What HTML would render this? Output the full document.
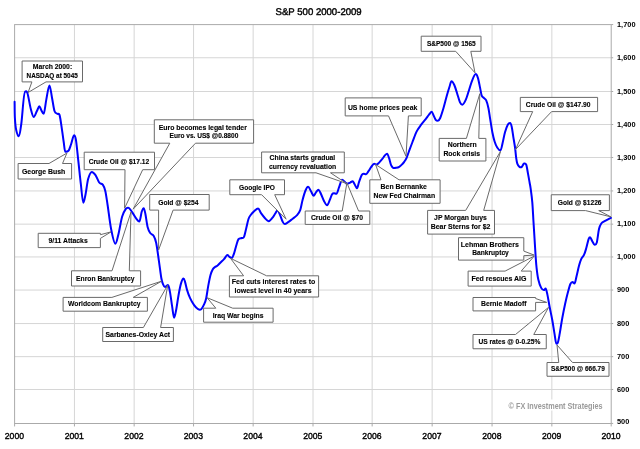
<!DOCTYPE html><html><head><meta charset="utf-8"><title>S&amp;P 500 2000-2009</title>
<style>html,body{margin:0;padding:0;background:#fff;}svg{display:block;}text{font-family:"Liberation Sans",sans-serif;}svg{will-change:transform;}</style></head><body>
<svg width="640" height="449" viewBox="0 0 640 449">
<rect width="640" height="449" fill="#fff"/>
<path d="M74.45,24.55V423.45M134.15,24.55V423.45M193.55,24.55V423.45M253.15,24.55V423.45M313.00,24.55V423.45M372.15,24.55V423.45M432.15,24.55V423.45M492.05,24.55V423.45M551.85,24.55V423.45M14.60,57.75H611.20M14.60,91.50H611.20M14.60,124.50H611.20M14.60,157.50H611.20M14.60,190.95H611.20M14.60,224.15H611.20M14.60,256.95H611.20M14.60,290.05H611.20M14.60,323.55H611.20M14.60,356.65H611.20M14.60,389.50H611.20" stroke="#d6d6d6" stroke-width="1" fill="none"/>
<rect x="14.6" y="24.6" width="596.6" height="398.9" fill="none" stroke="#aaaaaa" stroke-width="1"/>
<path d="M14.60,423.45V426.45M74.45,423.45V426.45M134.15,423.45V426.45M193.55,423.45V426.45M253.15,423.45V426.45M313.00,423.45V426.45M372.15,423.45V426.45M432.15,423.45V426.45M492.05,423.45V426.45M551.85,423.45V426.45M611.20,423.45V426.45M611.20,24.55H613.20M611.20,57.75H613.20M611.20,91.50H613.20M611.20,124.50H613.20M611.20,157.50H613.20M611.20,190.95H613.20M611.20,224.15H613.20M611.20,256.95H613.20M611.20,290.05H613.20M611.20,323.55H613.20M611.20,356.65H613.20M611.20,389.50H613.20M611.20,423.45H613.20" stroke="#aaaaaa" stroke-width="1" fill="none"/>
<g transform="translate(0,14.7) rotate(0.05) scale(1,0.95)"><text x="275.60" y="0.00" font-size="10.20" font-weight="normal" fill="#000" textLength="86.10" lengthAdjust="spacingAndGlyphs" stroke="#000" stroke-width="0.42">S&amp;P 500 2000-2009</text></g>
<text x="14.40" y="439.1" font-size="9.6" text-anchor="middle" fill="#000" stroke="#000" stroke-width="0.4" textLength="19.2" lengthAdjust="spacingAndGlyphs">2000</text>
<text x="74.25" y="439.1" font-size="9.6" text-anchor="middle" fill="#000" stroke="#000" stroke-width="0.4" textLength="19.2" lengthAdjust="spacingAndGlyphs">2001</text>
<text x="133.95" y="439.1" font-size="9.6" text-anchor="middle" fill="#000" stroke="#000" stroke-width="0.4" textLength="19.2" lengthAdjust="spacingAndGlyphs">2002</text>
<text x="193.35" y="439.1" font-size="9.6" text-anchor="middle" fill="#000" stroke="#000" stroke-width="0.4" textLength="19.2" lengthAdjust="spacingAndGlyphs">2003</text>
<text x="252.95" y="439.1" font-size="9.6" text-anchor="middle" fill="#000" stroke="#000" stroke-width="0.4" textLength="19.2" lengthAdjust="spacingAndGlyphs">2004</text>
<text x="312.80" y="439.1" font-size="9.6" text-anchor="middle" fill="#000" stroke="#000" stroke-width="0.4" textLength="19.2" lengthAdjust="spacingAndGlyphs">2005</text>
<text x="371.95" y="439.1" font-size="9.6" text-anchor="middle" fill="#000" stroke="#000" stroke-width="0.4" textLength="19.2" lengthAdjust="spacingAndGlyphs">2006</text>
<text x="431.95" y="439.1" font-size="9.6" text-anchor="middle" fill="#000" stroke="#000" stroke-width="0.4" textLength="19.2" lengthAdjust="spacingAndGlyphs">2007</text>
<text x="491.85" y="439.1" font-size="9.6" text-anchor="middle" fill="#000" stroke="#000" stroke-width="0.4" textLength="19.2" lengthAdjust="spacingAndGlyphs">2008</text>
<text x="551.65" y="439.1" font-size="9.6" text-anchor="middle" fill="#000" stroke="#000" stroke-width="0.4" textLength="19.2" lengthAdjust="spacingAndGlyphs">2009</text>
<text x="611.00" y="439.1" font-size="9.6" text-anchor="middle" fill="#000" stroke="#000" stroke-width="0.4" textLength="19.2" lengthAdjust="spacingAndGlyphs">2010</text>
<text x="617.0" y="26.55" font-size="7.4" font-weight="bold" fill="#000">1,700</text>
<text x="617.0" y="59.75" font-size="7.4" font-weight="bold" fill="#000">1,600</text>
<text x="617.0" y="93.50" font-size="7.4" font-weight="bold" fill="#000">1,500</text>
<text x="617.0" y="126.50" font-size="7.4" font-weight="bold" fill="#000">1,400</text>
<text x="617.0" y="159.50" font-size="7.4" font-weight="bold" fill="#000">1,300</text>
<text x="617.0" y="192.95" font-size="7.4" font-weight="bold" fill="#000">1,200</text>
<text x="617.0" y="226.15" font-size="7.4" font-weight="bold" fill="#000">1,100</text>
<text x="617.0" y="258.95" font-size="7.4" font-weight="bold" fill="#000">1,000</text>
<text x="617.0" y="292.05" font-size="7.4" font-weight="bold" fill="#000">900</text>
<text x="617.0" y="325.55" font-size="7.4" font-weight="bold" fill="#000">800</text>
<text x="617.0" y="358.65" font-size="7.4" font-weight="bold" fill="#000">700</text>
<text x="617.0" y="391.50" font-size="7.4" font-weight="bold" fill="#000">600</text>
<text x="617.0" y="424.35" font-size="7.4" font-weight="bold" fill="#000">500</text>
<rect x="507" y="399.5" width="97" height="11" fill="#fff"/>
<text x="508.60" y="408.90" font-size="8.38" font-weight="bold" fill="#9a9a9a" textLength="94.00" lengthAdjust="spacingAndGlyphs">© FX Investment Strategies</text>
<path d="M14.60,101.80 C14.65,104.50 14.63,113.30 14.90,118.00 C15.17,122.70 15.53,126.95 16.20,130.00 C16.87,133.05 18.03,136.30 18.90,136.30 C19.77,136.30 20.42,130.43 21.40,123.00 C22.38,115.57 23.80,91.70 24.80,91.70 C25.80,91.70 26.40,90.12 27.40,93.00 C28.40,95.88 29.75,105.00 30.80,109.00 C31.85,113.00 32.68,117.00 33.70,117.00 C34.72,117.00 35.97,112.80 36.90,111.00 C37.83,109.20 38.58,106.20 39.30,106.20 C40.02,106.20 40.47,108.73 41.20,110.00 C41.93,111.27 42.85,113.80 43.70,113.80 C44.55,113.80 45.35,104.33 46.30,99.60 C47.25,94.87 48.45,85.40 49.40,85.40 C50.35,85.40 51.15,93.43 52.00,97.70 C52.85,101.97 53.62,108.32 54.50,111.00 C55.38,113.68 56.45,113.12 57.30,113.80 C58.15,114.48 58.82,112.42 59.60,115.10 C60.38,117.78 61.32,125.42 62.00,129.90 C62.68,134.38 63.13,138.35 63.70,142.00 C64.27,145.65 64.58,151.80 65.40,151.80 C66.22,151.80 67.67,151.82 68.60,150.60 C69.53,149.38 70.10,147.07 71.00,144.50 C71.90,141.93 73.18,135.20 74.00,135.20 C74.82,135.20 75.17,135.20 75.90,139.60 C76.63,144.00 77.58,154.25 78.40,161.60 C79.22,168.95 79.98,176.83 80.80,183.70 C81.62,190.57 82.48,202.80 83.30,202.80 C84.12,202.80 84.88,197.50 85.70,193.50 C86.52,189.50 87.18,182.40 88.20,178.80 C89.22,175.20 90.58,171.90 91.80,171.90 C93.02,171.90 94.27,173.33 95.50,175.10 C96.73,176.87 97.97,180.87 99.20,182.50 C100.43,184.13 101.88,183.48 102.90,184.90 C103.92,186.32 104.52,187.65 105.30,191.00 C106.08,194.35 106.63,198.67 107.60,205.00 C108.57,211.33 109.82,222.55 111.10,229.00 C112.38,235.45 114.07,243.70 115.30,243.70 C116.53,243.70 117.37,238.40 118.50,233.90 C119.63,229.40 120.88,220.87 122.10,216.70 C123.32,212.53 124.77,210.40 125.80,208.90 C126.83,207.40 127.28,207.70 128.30,207.70 C129.32,207.70 130.57,209.97 131.90,211.80 C133.23,213.63 135.07,217.07 136.30,218.70 C137.53,220.33 138.40,221.60 139.30,221.60 C140.20,221.60 140.97,214.03 141.70,211.80 C142.43,209.57 143.08,208.20 143.70,208.20 C144.32,208.20 144.75,210.87 145.40,214.00 C146.05,217.13 146.80,223.83 147.60,227.00 C148.40,230.17 149.20,231.53 150.20,233.00 C151.20,234.47 152.60,234.13 153.60,235.80 C154.60,237.47 155.32,238.83 156.20,243.00 C157.08,247.17 158.05,254.97 158.90,260.80 C159.75,266.63 160.62,274.12 161.30,278.00 C161.98,281.88 162.38,282.58 163.00,284.10 C163.62,285.62 164.17,287.10 165.00,287.10 C165.83,287.10 167.17,285.10 168.00,285.10 C168.83,285.10 169.32,288.58 170.00,292.10 C170.68,295.62 171.42,301.92 172.10,306.20 C172.78,310.48 173.43,317.80 174.10,317.80 C174.77,317.80 175.33,314.13 176.10,310.20 C176.87,306.27 177.87,298.72 178.70,294.20 C179.53,289.68 180.30,285.72 181.10,283.10 C181.90,280.48 182.83,278.50 183.50,278.50 C184.17,278.50 184.50,280.17 185.10,282.10 C185.70,284.03 186.27,287.42 187.10,290.10 C187.93,292.78 188.93,295.68 190.10,298.20 C191.27,300.72 192.77,303.37 194.10,305.20 C195.43,307.03 196.92,308.53 198.10,309.20 C199.28,309.87 200.18,310.03 201.20,309.20 C202.22,308.37 203.37,306.03 204.20,304.20 C205.03,302.37 205.53,301.22 206.20,298.20 C206.87,295.18 207.48,289.97 208.20,286.10 C208.92,282.23 209.73,277.82 210.50,275.00 C211.27,272.18 212.05,270.53 212.80,269.20 C213.55,267.87 214.25,267.57 215.00,267.00 C215.75,266.43 216.37,266.55 217.30,265.80 C218.23,265.05 219.48,263.60 220.60,262.50 C221.72,261.40 222.88,260.43 224.00,259.20 C225.12,257.97 226.38,255.10 227.30,255.10 C228.22,255.10 228.75,256.42 229.50,256.90 C230.25,257.38 231.05,258.00 231.80,258.00 C232.55,258.00 233.27,255.63 234.00,253.60 C234.73,251.57 235.45,248.22 236.20,245.80 C236.95,243.38 237.57,240.40 238.50,239.10 C239.43,237.80 240.88,238.38 241.80,238.00 C242.72,237.62 243.25,238.48 244.00,236.80 C244.75,235.12 245.55,230.87 246.30,227.90 C247.05,224.93 247.77,221.15 248.50,219.00 C249.23,216.85 249.77,216.30 250.70,215.00 C251.63,213.70 252.87,212.28 254.10,211.20 C255.33,210.12 256.95,208.50 258.10,208.50 C259.25,208.50 259.85,211.58 261.00,213.20 C262.15,214.82 263.73,216.87 265.00,218.20 C266.27,219.53 267.42,221.20 268.60,221.20 C269.78,221.20 271.02,219.43 272.10,218.20 C273.18,216.97 274.20,215.13 275.10,213.80 C276.00,212.47 276.67,210.20 277.50,210.20 C278.33,210.20 279.23,213.27 280.10,215.20 C280.97,217.13 281.93,220.35 282.70,221.80 C283.47,223.25 283.80,223.90 284.70,223.90 C285.60,223.90 286.87,222.98 288.10,222.20 C289.33,221.42 290.60,220.37 292.10,219.20 C293.60,218.03 295.75,216.70 297.10,215.20 C298.45,213.70 299.30,212.70 300.20,210.20 C301.10,207.70 301.62,203.48 302.50,200.20 C303.38,196.92 304.57,192.73 305.50,190.50 C306.43,188.27 307.18,186.80 308.10,186.80 C309.02,186.80 310.08,189.70 311.00,191.20 C311.92,192.70 312.75,195.80 313.60,195.80 C314.45,195.80 315.28,193.20 316.10,192.20 C316.92,191.20 317.67,189.80 318.50,189.80 C319.33,189.80 320.17,192.30 321.10,194.20 C322.03,196.10 323.10,199.35 324.10,201.20 C325.10,203.05 326.17,205.30 327.10,205.30 C328.03,205.30 328.87,202.05 329.70,200.20 C330.53,198.35 331.37,195.37 332.10,194.20 C332.83,193.03 333.37,193.20 334.10,193.20 C334.83,193.20 335.67,193.80 336.50,193.80 C337.33,193.80 338.17,189.53 339.10,187.20 C340.03,184.87 341.08,179.80 342.10,179.80 C343.12,179.80 344.35,181.53 345.20,182.20 C346.05,182.87 346.37,183.80 347.20,183.80 C348.03,183.80 349.30,183.03 350.20,182.60 C351.10,182.17 351.87,181.20 352.60,181.20 C353.33,181.20 353.87,183.02 354.60,184.20 C355.33,185.38 356.27,188.30 357.00,188.30 C357.73,188.30 358.23,184.38 359.00,182.20 C359.77,180.02 360.83,176.60 361.60,175.20 C362.37,173.80 362.85,173.80 363.60,173.80 C364.35,173.80 365.28,174.20 366.10,174.20 C366.92,174.20 367.67,172.37 368.50,171.20 C369.33,170.03 370.17,168.43 371.10,167.20 C372.03,165.97 373.20,163.80 374.10,163.80 C375.00,163.80 375.67,164.60 376.50,164.60 C377.33,164.60 378.17,163.50 379.10,162.60 C380.03,161.70 381.10,160.43 382.10,159.20 C383.10,157.97 384.27,156.12 385.10,155.20 C385.93,154.28 386.43,153.70 387.10,153.70 C387.77,153.70 388.43,156.28 389.10,158.20 C389.77,160.12 390.43,163.60 391.10,165.20 C391.77,166.80 392.25,167.37 393.10,167.80 C393.95,168.23 395.18,167.97 396.20,167.80 C397.22,167.63 398.27,167.33 399.20,166.80 C400.13,166.27 400.97,165.43 401.80,164.60 C402.63,163.77 403.40,162.93 404.20,161.80 C405.00,160.67 405.82,159.52 406.60,157.80 C407.38,156.08 407.95,154.05 408.90,151.50 C409.85,148.95 411.00,145.85 412.30,142.50 C413.60,139.15 415.22,134.37 416.70,131.40 C418.18,128.43 419.70,126.75 421.20,124.70 C422.70,122.65 424.40,120.77 425.70,119.10 C427.00,117.43 428.00,115.92 429.00,114.70 C430.00,113.48 430.95,111.80 431.70,111.80 C432.45,111.80 432.83,113.97 433.50,115.30 C434.17,116.63 434.97,118.90 435.70,119.80 C436.43,120.70 437.15,120.70 437.90,120.70 C438.65,120.70 439.27,120.12 440.20,118.00 C441.13,115.88 442.40,111.72 443.50,108.00 C444.60,104.28 445.80,99.23 446.80,95.70 C447.80,92.17 448.72,89.22 449.50,86.80 C450.28,84.38 450.70,81.20 451.50,81.20 C452.30,81.20 453.38,83.03 454.30,85.00 C455.22,86.97 456.05,90.10 457.00,93.00 C457.95,95.90 459.12,100.45 460.00,102.40 C460.88,104.35 461.37,104.70 462.30,104.70 C463.23,104.70 464.48,102.62 465.60,100.20 C466.72,97.78 467.88,93.55 469.00,90.20 C470.12,86.85 471.18,82.78 472.30,80.10 C473.42,77.42 474.77,74.10 475.70,74.10 C476.63,74.10 477.17,75.60 477.90,77.90 C478.63,80.20 479.47,84.93 480.10,87.90 C480.73,90.87 481.07,94.02 481.70,95.70 C482.33,97.38 483.17,97.25 483.90,98.00 C484.63,98.75 485.35,98.53 486.10,100.20 C486.85,101.87 487.72,104.85 488.40,108.00 C489.08,111.15 489.53,115.02 490.20,119.10 C490.87,123.18 491.67,128.77 492.40,132.50 C493.13,136.23 493.80,139.00 494.60,141.50 C495.40,144.00 496.23,146.00 497.20,147.50 C498.17,149.00 499.50,150.50 500.40,150.50 C501.30,150.50 501.83,146.03 502.60,143.00 C503.37,139.97 504.12,135.38 505.00,132.30 C505.88,129.22 507.03,126.05 507.90,124.50 C508.77,122.95 509.57,123.00 510.20,123.00 C510.83,123.00 511.18,124.50 511.70,126.80 C512.22,129.10 512.73,133.27 513.30,136.80 C513.87,140.33 514.62,144.47 515.10,148.00 C515.58,151.53 515.83,155.40 516.20,158.00 C516.57,160.60 516.75,162.12 517.30,163.60 C517.85,165.08 518.75,166.35 519.50,166.90 C520.25,167.45 521.05,167.45 521.80,166.90 C522.55,166.35 523.27,163.60 524.00,163.60 C524.73,163.60 525.53,163.03 526.20,164.70 C526.87,166.37 527.43,170.63 528.00,173.60 C528.57,176.57 529.15,179.95 529.60,182.50 C530.05,185.05 530.25,185.60 530.70,188.90 C531.15,192.20 531.85,197.08 532.30,202.30 C532.75,207.52 533.03,214.25 533.40,220.20 C533.77,226.15 534.13,232.07 534.50,238.00 C534.87,243.93 535.25,250.80 535.60,255.80 C535.95,260.80 536.15,264.05 536.60,268.00 C537.05,271.95 537.53,276.18 538.30,279.50 C539.07,282.82 540.28,286.13 541.20,287.90 C542.12,289.67 543.07,290.10 543.80,290.10 C544.53,290.10 545.00,288.60 545.60,288.60 C546.20,288.60 546.73,291.57 547.40,294.60 C548.07,297.63 548.78,302.53 549.60,306.80 C550.42,311.07 551.48,315.73 552.30,320.20 C553.12,324.67 553.83,329.70 554.50,333.60 C555.17,337.50 555.73,343.60 556.30,343.60 C556.87,343.60 557.33,344.17 557.90,342.50 C558.47,340.83 558.97,337.68 559.70,333.60 C560.43,329.52 561.38,323.02 562.30,318.00 C563.22,312.98 564.27,307.78 565.20,303.50 C566.13,299.22 567.03,295.55 567.90,292.30 C568.77,289.05 569.63,285.72 570.40,284.00 C571.17,282.28 571.82,282.00 572.50,282.00 C573.18,282.00 573.82,283.50 574.50,283.50 C575.18,283.50 575.85,278.95 576.60,276.00 C577.35,273.05 578.23,268.60 579.00,265.80 C579.77,263.00 580.35,261.05 581.20,259.20 C582.05,257.35 583.25,256.57 584.10,254.70 C584.95,252.83 585.55,250.60 586.30,248.00 C587.05,245.40 587.97,240.88 588.60,239.10 C589.23,237.32 589.48,237.30 590.10,237.30 C590.72,237.30 591.55,240.07 592.30,241.30 C593.05,242.53 593.85,244.70 594.60,244.70 C595.35,244.70 596.07,245.02 596.80,242.40 C597.53,239.78 598.25,232.15 599.00,229.00 C599.75,225.85 600.37,224.80 601.30,223.50 C602.23,222.20 603.48,221.88 604.60,221.20 C605.72,220.52 606.95,219.95 608.00,219.40 C609.05,218.85 610.42,218.15 610.90,217.90" fill="none" stroke="#0000ff" stroke-width="2.0" stroke-linejoin="round" stroke-linecap="round"/>
<path d="M22.10,61.00 L82.50,61.00 L82.50,81.90 L46.00,81.90 L28.10,92.50 L31.90,81.90 L22.10,81.90 Z" fill="#fff" stroke="#6a6a6a" stroke-width="1" stroke-linejoin="miter"/>
<text x="32.80" y="69.00" font-size="6.42" font-weight="bold" fill="#000" textLength="39.40" lengthAdjust="spacingAndGlyphs" stroke="#000" stroke-width="0.12">March 2000:</text>
<text x="26.60" y="78.10" font-size="6.42" font-weight="bold" fill="#000" textLength="51.20" lengthAdjust="spacingAndGlyphs" stroke="#000" stroke-width="0.12">NASDAQ at 5045</text>
<path d="M18.10,163.50 L49.00,163.50 L66.90,153.10 L62.50,163.50 L71.60,163.50 L71.60,179.00 L18.10,179.00 Z" fill="#fff" stroke="#6a6a6a" stroke-width="1" stroke-linejoin="miter"/>
<text x="21.95" y="173.50" font-size="6.98" font-weight="bold" fill="#000" textLength="43.35" lengthAdjust="spacingAndGlyphs" stroke="#000" stroke-width="0.12">George Bush</text>
<path d="M84.20,152.20 L154.50,152.20 L154.50,169.70 L142.70,169.70 L124.60,208.20 L125.00,169.70 L84.20,169.70 Z" fill="#fff" stroke="#6a6a6a" stroke-width="1" stroke-linejoin="miter"/>
<text x="88.70" y="163.90" font-size="7.68" font-weight="bold" fill="#000" textLength="60.60" lengthAdjust="spacingAndGlyphs" stroke="#000" stroke-width="0.12">Crude Oil @ $17.12</text>
<path d="M154.30,119.80 L253.60,119.80 L253.60,143.20 L195.50,143.20 L133.10,209.20 L169.80,143.20 L154.30,143.20 Z" fill="#fff" stroke="#6a6a6a" stroke-width="1" stroke-linejoin="miter"/>
<text x="158.70" y="130.30" font-size="7.26" font-weight="bold" fill="#000" textLength="88.20" lengthAdjust="spacingAndGlyphs" stroke="#000" stroke-width="0.12">Euro becomes legal tender</text>
<text x="169.50" y="138.40" font-size="7.26" font-weight="bold" fill="#000" textLength="68.80" lengthAdjust="spacingAndGlyphs" stroke="#000" stroke-width="0.12">Euro vs. US$ @0.8800</text>
<path d="M149.70,194.50 L209.20,194.50 L209.20,210.10 L173.10,210.10 L158.60,250.00 L158.60,210.10 L149.70,210.10 Z" fill="#fff" stroke="#6a6a6a" stroke-width="1" stroke-linejoin="miter"/>
<text x="158.20" y="205.10" font-size="7.54" font-weight="bold" fill="#000" textLength="40.30" lengthAdjust="spacingAndGlyphs" stroke="#000" stroke-width="0.12">Gold @ $254</text>
<path d="M38.20,233.30 L100.40,233.30 L100.40,234.70 L111.00,231.90 L100.40,238.40 L100.40,247.60 L38.20,247.60 Z" fill="#fff" stroke="#6a6a6a" stroke-width="1" stroke-linejoin="miter"/>
<text x="48.45" y="242.90" font-size="7.54" font-weight="bold" fill="#000" textLength="39.25" lengthAdjust="spacingAndGlyphs" stroke="#000" stroke-width="0.12">9/11 Attacks</text>
<path d="M71.50,270.80 L112.00,270.80 L131.00,212.00 L129.30,270.80 L140.60,270.80 L140.60,286.00 L71.50,286.00 Z" fill="#fff" stroke="#6a6a6a" stroke-width="1" stroke-linejoin="miter"/>
<text x="76.10" y="281.00" font-size="7.68" font-weight="bold" fill="#000" textLength="58.50" lengthAdjust="spacingAndGlyphs" stroke="#000" stroke-width="0.12">Enron Bankruptcy</text>
<path d="M63.10,297.40 L111.90,297.40 L161.60,281.20 L133.20,297.40 L147.40,297.40 L147.40,311.20 L63.10,311.20 Z" fill="#fff" stroke="#6a6a6a" stroke-width="1" stroke-linejoin="miter"/>
<text x="67.90" y="306.00" font-size="7.96" font-weight="bold" fill="#000" textLength="72.70" lengthAdjust="spacingAndGlyphs" stroke="#000" stroke-width="0.12">Worldcom Bankruptcy</text>
<path d="M102.70,327.50 L143.40,327.50 L167.70,285.20 L160.60,327.50 L173.40,327.50 L173.40,341.50 L102.70,341.50 Z" fill="#fff" stroke="#6a6a6a" stroke-width="1" stroke-linejoin="miter"/>
<text x="105.50" y="337.00" font-size="7.96" font-weight="bold" fill="#000" textLength="64.60" lengthAdjust="spacingAndGlyphs" stroke="#000" stroke-width="0.12">Sarbanes-Oxley Act</text>
<path d="M203.60,308.20 L215.80,308.20 L207.10,297.70 L232.70,308.20 L273.10,308.20 L273.10,322.20 L203.60,322.20 Z" fill="#fff" stroke="#6a6a6a" stroke-width="1" stroke-linejoin="miter"/>
<text x="212.70" y="318.00" font-size="7.96" font-weight="bold" fill="#000" textLength="50.90" lengthAdjust="spacingAndGlyphs" stroke="#000" stroke-width="0.12">Iraq War begins</text>
<path d="M229.40,275.80 L243.60,275.80 L230.50,258.30 L266.60,275.80 L318.60,275.80 L318.60,297.00 L229.40,297.00 Z" fill="#fff" stroke="#6a6a6a" stroke-width="1" stroke-linejoin="miter"/>
<text x="231.70" y="284.10" font-size="7.96" font-weight="bold" fill="#000" textLength="83.70" lengthAdjust="spacingAndGlyphs" stroke="#000" stroke-width="0.12">Fed cuts interest rates to</text>
<text x="234.50" y="293.00" font-size="7.54" font-weight="bold" fill="#000" textLength="77.20" lengthAdjust="spacingAndGlyphs" stroke="#000" stroke-width="0.12">lowest level in 40 years</text>
<path d="M229.80,179.80 L284.50,179.80 L284.50,194.70 L274.70,194.70 L286.10,219.20 L261.60,194.70 L229.80,194.70 Z" fill="#fff" stroke="#6a6a6a" stroke-width="1" stroke-linejoin="miter"/>
<text x="239.00" y="189.90" font-size="7.12" font-weight="bold" fill="#000" textLength="36.00" lengthAdjust="spacingAndGlyphs" stroke="#000" stroke-width="0.12">Google IPO</text>
<path d="M261.60,152.00 L344.30,152.00 L344.30,172.80 L330.50,172.80 L346.60,183.50 L316.00,172.80 L261.60,172.80 Z" fill="#fff" stroke="#6a6a6a" stroke-width="1" stroke-linejoin="miter"/>
<text x="269.60" y="159.70" font-size="6.70" font-weight="bold" fill="#000" textLength="65.60" lengthAdjust="spacingAndGlyphs" stroke="#000" stroke-width="0.12">China starts gradual</text>
<text x="268.90" y="168.50" font-size="6.84" font-weight="bold" fill="#000" textLength="67.40" lengthAdjust="spacingAndGlyphs" stroke="#000" stroke-width="0.12">currency revaluation</text>
<path d="M305.20,211.00 L342.20,211.00 L346.90,182.90 L358.60,211.00 L369.80,211.00 L369.80,224.40 L305.20,224.40 Z" fill="#fff" stroke="#6a6a6a" stroke-width="1" stroke-linejoin="miter"/>
<text x="310.90" y="220.00" font-size="7.68" font-weight="bold" fill="#000" textLength="52.20" lengthAdjust="spacingAndGlyphs" stroke="#000" stroke-width="0.12">Crude Oil @ $70</text>
<path d="M369.80,179.80 L381.00,179.80 L375.60,164.50 L399.00,179.80 L440.10,179.80 L440.10,203.30 L369.80,203.30 Z" fill="#fff" stroke="#6a6a6a" stroke-width="1" stroke-linejoin="miter"/>
<text x="380.60" y="189.20" font-size="7.26" font-weight="bold" fill="#000" textLength="46.30" lengthAdjust="spacingAndGlyphs" stroke="#000" stroke-width="0.12">Ben Bernanke</text>
<text x="373.50" y="198.10" font-size="7.12" font-weight="bold" fill="#000" textLength="61.60" lengthAdjust="spacingAndGlyphs" stroke="#000" stroke-width="0.12">New Fed Chairman</text>
<path d="M345.20,97.90 L421.20,97.90 L421.20,115.90 L408.40,115.90 L406.00,156.30 L388.50,115.90 L345.20,115.90 Z" fill="#fff" stroke="#6a6a6a" stroke-width="1" stroke-linejoin="miter"/>
<text x="347.90" y="110.00" font-size="8.10" font-weight="bold" fill="#000" textLength="69.40" lengthAdjust="spacingAndGlyphs" stroke="#000" stroke-width="0.12">US home prices peak</text>
<path d="M421.20,36.20 L481.00,36.20 L481.00,51.30 L470.80,51.30 L475.00,72.80 L455.70,51.30 L421.20,51.30 Z" fill="#fff" stroke="#6a6a6a" stroke-width="1" stroke-linejoin="miter"/>
<text x="426.90" y="46.40" font-size="7.26" font-weight="bold" fill="#000" textLength="48.80" lengthAdjust="spacingAndGlyphs" stroke="#000" stroke-width="0.12">S&amp;P500 @ 1565</text>
<path d="M439.20,138.40 L466.40,138.40 L479.80,93.70 L478.80,138.40 L485.90,138.40 L485.90,161.00 L439.20,161.00 Z" fill="#fff" stroke="#6a6a6a" stroke-width="1" stroke-linejoin="miter"/>
<text x="447.70" y="147.10" font-size="6.28" font-weight="bold" fill="#000" textLength="29.00" lengthAdjust="spacingAndGlyphs" stroke="#000" stroke-width="0.12">Northern</text>
<text x="443.40" y="156.00" font-size="6.42" font-weight="bold" fill="#000" textLength="36.70" lengthAdjust="spacingAndGlyphs" stroke="#000" stroke-width="0.12">Rock crisis</text>
<path d="M520.30,97.40 L597.60,97.40 L597.60,111.60 L551.60,111.60 L515.50,149.50 L532.70,111.60 L520.30,111.60 Z" fill="#fff" stroke="#6a6a6a" stroke-width="1" stroke-linejoin="miter"/>
<text x="525.80" y="107.00" font-size="7.96" font-weight="bold" fill="#000" textLength="64.70" lengthAdjust="spacingAndGlyphs" stroke="#000" stroke-width="0.12">Crude Oil @ $147.90</text>
<path d="M427.60,210.40 L465.70,210.40 L500.50,151.40 L483.70,210.40 L494.50,210.40 L494.50,234.10 L427.60,234.10 Z" fill="#fff" stroke="#6a6a6a" stroke-width="1" stroke-linejoin="miter"/>
<text x="434.10" y="220.00" font-size="6.98" font-weight="bold" fill="#000" textLength="52.70" lengthAdjust="spacingAndGlyphs" stroke="#000" stroke-width="0.12">JP Morgan buys</text>
<text x="430.70" y="229.00" font-size="7.54" font-weight="bold" fill="#000" textLength="59.70" lengthAdjust="spacingAndGlyphs" stroke="#000" stroke-width="0.12">Bear Sterns for $2</text>
<path d="M458.50,237.70 L523.80,237.70 L523.80,251.10 L534.20,255.10 L523.80,255.70 L523.80,260.10 L458.50,260.10 Z" fill="#fff" stroke="#6a6a6a" stroke-width="1" stroke-linejoin="miter"/>
<text x="460.70" y="246.50" font-size="7.68" font-weight="bold" fill="#000" textLength="58.20" lengthAdjust="spacingAndGlyphs" stroke="#000" stroke-width="0.12">Lehman Brothers</text>
<text x="472.20" y="255.00" font-size="6.98" font-weight="bold" fill="#000" textLength="36.60" lengthAdjust="spacingAndGlyphs" stroke="#000" stroke-width="0.12">Bankruptcy</text>
<path d="M468.10,271.10 L505.10,271.10 L534.20,256.10 L521.20,271.10 L531.20,271.10 L531.20,286.10 L468.10,286.10 Z" fill="#fff" stroke="#6a6a6a" stroke-width="1" stroke-linejoin="miter"/>
<text x="471.40" y="280.70" font-size="6.98" font-weight="bold" fill="#000" textLength="55.10" lengthAdjust="spacingAndGlyphs" stroke="#000" stroke-width="0.12">Fed rescues AIG</text>
<path d="M473.00,297.50 L535.60,297.50 L535.60,298.50 L546.70,302.40 L535.60,302.40 L535.60,310.90 L473.00,310.90 Z" fill="#fff" stroke="#6a6a6a" stroke-width="1" stroke-linejoin="miter"/>
<text x="480.95" y="306.25" font-size="6.98" font-weight="bold" fill="#000" textLength="45.60" lengthAdjust="spacingAndGlyphs" stroke="#000" stroke-width="0.12">Bernie Madoff</text>
<path d="M473.00,334.50 L515.50,334.50 L548.60,307.30 L533.75,334.50 L546.25,334.50 L546.25,348.75 L473.00,348.75 Z" fill="#fff" stroke="#6a6a6a" stroke-width="1" stroke-linejoin="miter"/>
<text x="478.45" y="343.75" font-size="6.98" font-weight="bold" fill="#000" textLength="61.85" lengthAdjust="spacingAndGlyphs" stroke="#000" stroke-width="0.12">US rates @ 0-0.25%</text>
<path d="M547.00,362.50 L558.75,362.50 L557.00,345.00 L572.50,362.50 L609.00,362.50 L609.00,376.25 L547.00,376.25 Z" fill="#fff" stroke="#6a6a6a" stroke-width="1" stroke-linejoin="miter"/>
<text x="550.95" y="371.25" font-size="6.98" font-weight="bold" fill="#000" textLength="53.85" lengthAdjust="spacingAndGlyphs" stroke="#000" stroke-width="0.12">S&amp;P500 @ 666.79</text>
<path d="M551.25,194.75 L609.40,194.75 L609.40,210.60 L598.75,210.60 L611.00,216.90 L585.60,210.60 L551.25,210.60 Z" fill="#fff" stroke="#6a6a6a" stroke-width="1" stroke-linejoin="miter"/>
<text x="557.80" y="204.75" font-size="6.98" font-weight="bold" fill="#000" textLength="43.75" lengthAdjust="spacingAndGlyphs" stroke="#000" stroke-width="0.12">Gold @ $1226</text>
</svg></body></html>
